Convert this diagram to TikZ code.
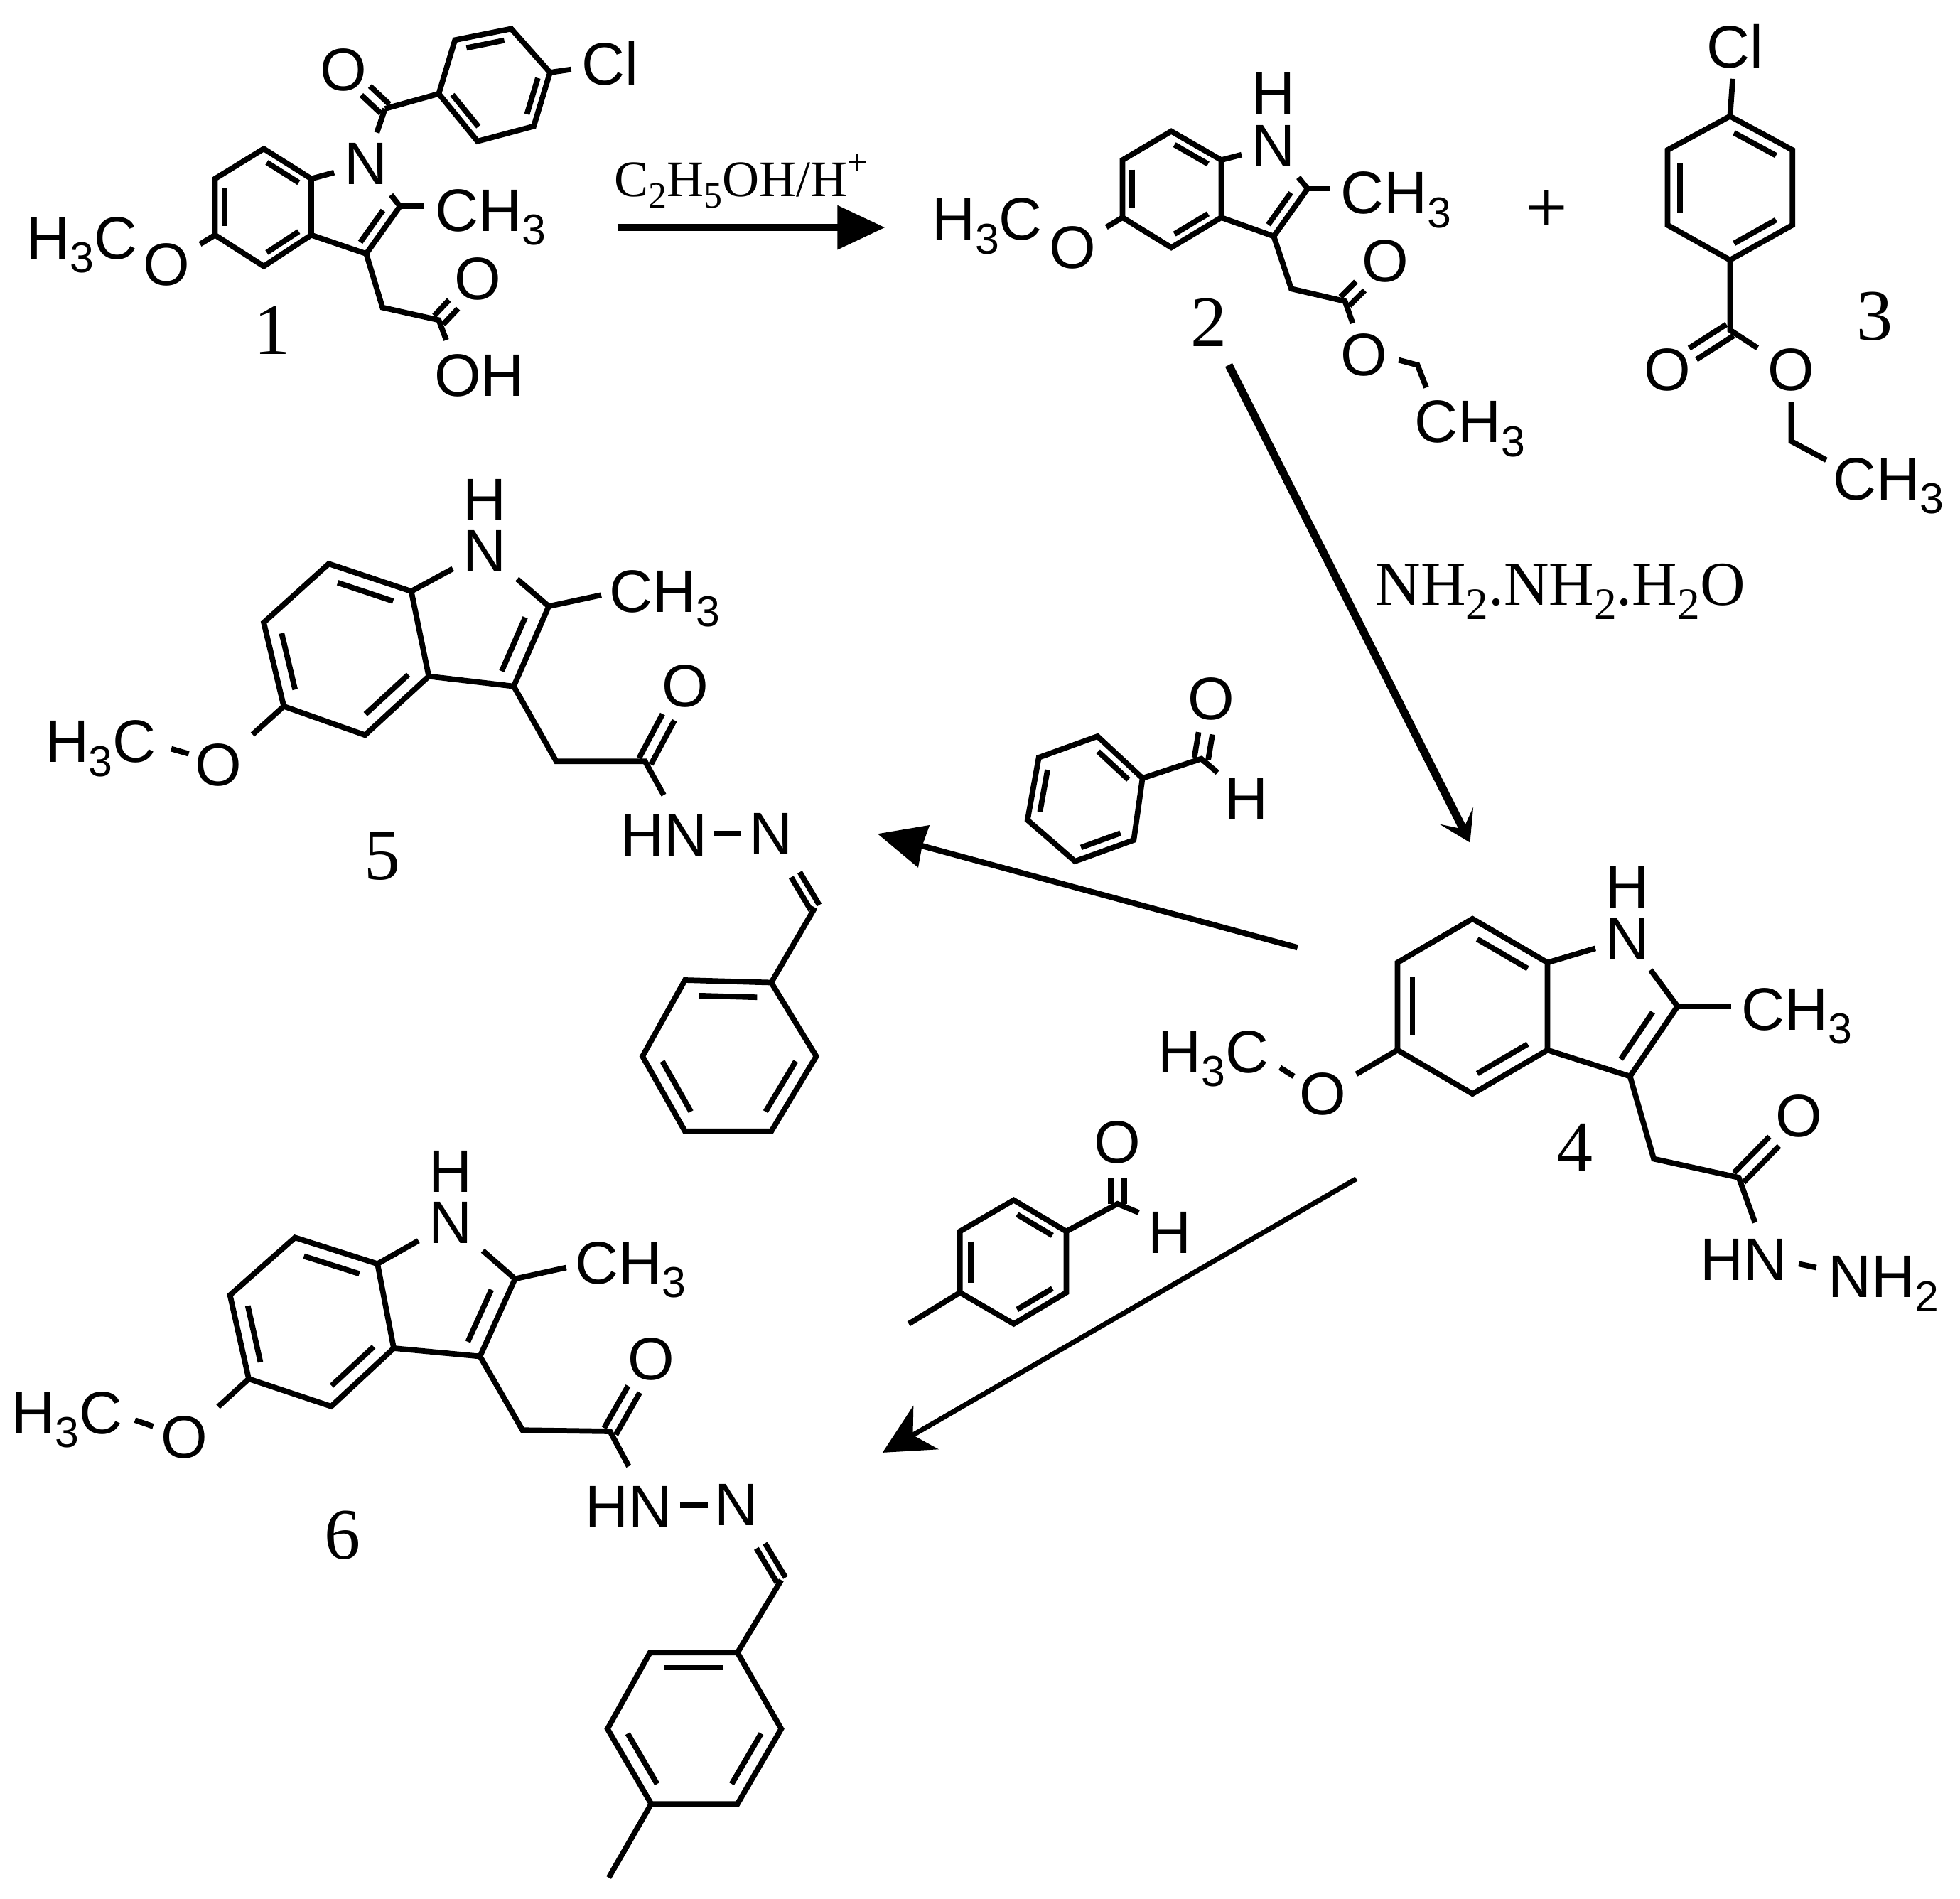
\documentclass[tikz,border=0pt]{standalone}
\usepackage{graphicx}
\usepackage{fontspec}
\setmainfont{Liberation Serif}
\newfontfamily\arialf{Liberation Sans}
\usetikzlibrary{calc,arrows.meta}
\newcommand{\sbs}[1]{\raisebox{-.23em}{\scalebox{.72}{#1}}}
\newcommand{\sps}[1]{\raisebox{.42em}{\scalebox{.7}{#1}}}
\newcommand{\vx}[2]{\coordinate (#1) at (#2);}
\newcommand{\hexring}[7]{%
  \coordinate (#1a) at (#2);\coordinate (#1b) at (#3);\coordinate (#1c) at (#4);%
  \coordinate (#1d) at (#5);\coordinate (#1e) at (#6);\coordinate (#1f) at (#7);%
  \coordinate (#1x) at ($(#1a)!.5!(#1d)$);%
  \draw[bond] (#1a)--(#1b)--(#1c)--(#1d)--(#1e)--(#1f)--cycle;}
\newcommand{\inb}[3]{\draw[bond] ($(#1#2)!.08!(#1#3)!.2!(#1x)$) -- ($(#1#3)!.08!(#1#2)!.2!(#1x)$);}
\newcommand{\inc}[3]{\draw[bond] ($(#1)!.1!(#2)!.16!(#3)$) -- ($(#2)!.1!(#1)!.16!(#3)$);}
% double bond from carbon #1 towards atom node #2, half separation #3, stopping #4 before #2
\newcommand{\dbl}[4]{%
  \draw[bond,shorten >=#4] ($(#1)!#3!90:(#2)$) -- ($(#2)!#3!-90:(#1)$);%
  \draw[bond,shorten >=#4] ($(#1)!#3!-90:(#2)$) -- ($(#2)!#3!90:(#1)$);}
\tikzset{
  bond/.style={line width=2.2pt,line cap=butt,line join=miter},
  atom/.style={font=\arialf\fontsize{24}{26}\selectfont,inner sep=4pt,text=black},
  grp/.style={font=\arialf\fontsize{24}{26}\selectfont,inner sep=0pt,anchor=base west,text=black},
  num/.style={font=\fontsize{29}{32}\selectfont,inner sep=0pt,text=black},
  reag/.style={font=\fontsize{25}{28}\selectfont,inner sep=0pt,anchor=base west,text=black},
  reag small/.style={font=\fontsize{20.5}{24}\selectfont,inner sep=0pt,anchor=base west,text=black},
}
\begin{document}
\begin{tikzpicture}[x=0.5pt,y=-0.5pt]
\useasboundingbox (0,0) rectangle (1568,1519);
\fill[white] (0,0) rectangle (1568,1519);

% ---------- compound 1
\hexring{ia}{211,119}{172,143}{172,188}{211,213}{249,188}{249,143}
\inb{ia}{a}{f}\inb{ia}{b}{c}\inb{ia}{d}{e}
\node[atom] (an) at (293,131) {N};
\vx{ac2}{320,165}\vx{ac3}{293,203}\vx{acm}{339,165}\vx{ach}{306,246}\vx{aco}{351,256}\vx{aoh}{357,272}\vx{acb}{308,87}
\node[grp] (ame) at (348,185) {CH\sbs{3}};
\node[grp] (aom) at (21,207) {H\sbs{3}C};
\node[atom] (ao) at (133,212) {O};
\node[atom] (ao2) at (382,223) {O};
\node[grp] (aoh2) at (347,317) {OH};
\node[atom] (ao3) at (275,56) {O};
\node[atom] (acl) at (488,51) {Cl};
\node[num] (l1) at (218,264) {1};
\draw[bond] (iaf) -- (an);
\draw[bond] (an) -- (ac2) -- (ac3) -- (iae);
\draw[bond] (ac2) -- (acm);
\inc{ac2}{ac3}{$(iae)!.5!(iaf)$}
\draw[bond] (iac) -- (ao);
\draw[bond] (ac3) -- (ach) -- (aco) -- (aoh);
\dbl{aco}{ao2}{2.5pt}{14pt}
\draw[bond] (an) -- (acb);
\dbl{acb}{ao3}{2.5pt}{12pt}
\hexring{ab}{351,75}{364,32}{409,23}{440,58}{427,101}{382,113}
\inb{ab}{b}{c}\inb{ab}{d}{e}\inb{ab}{f}{a}
\draw[bond] (acb) -- (aba);
\draw[bond] (abd) -- (acl);

% ---------- reaction 1
\node[reag small] (r1) at (491,157) {C\sbs{2}H\sbs{5}OH/H\sps{+}};
\vx{p1s}{494,182}\vx{p1e}{708,182}
\draw[line width=2.8pt,-{Triangle[length=19pt,width=17pt]}] (p1s) -- (p1e);

% ---------- compound 2
\hexring{ib}{937,105}{898,128}{898,174}{937,198}{977,174}{977,128}
\inb{ib}{a}{f}\inb{ib}{b}{c}\inb{ib}{d}{e}
\node[atom] (bn) at (1019,117) {N};
\node[atom] (bh) at (1019,75) {H};
\vx{bc2}{1046,151}\vx{bc3}{1019,189}\vx{bcm}{1064,151}\vx{bch}{1033,231}\vx{bco}{1076,241}\vx{bcq}{1134,292}\vx{bqa}{1119,288}\vx{bqb}{1141,310}
\node[grp] (bme) at (1072,171) {CH\sbs{3}};
\node[grp] (bom) at (745,192) {H\sbs{3}C};
\node[atom] (bo) at (858,198) {O};
\node[atom] (bo2) at (1108,209) {O};
\node[atom] (bo3) at (1091,284) {O};
\node[grp] (bet) at (1131,354) {CH\sbs{3}};
\node[num] (l2) at (967,258) {2};
\draw[bond] (ibf) -- (bn);
\draw[bond] (bn) -- (bc2) -- (bc3) -- (ibe);
\draw[bond] (bc2) -- (bcm);
\inc{bc2}{bc3}{$(ibe)!.5!(ibf)$}
\draw[bond] (ibc) -- (bo);
\draw[bond] (bc3) -- (bch) -- (bco) -- (bo3);
\dbl{bco}{bo2}{2.5pt}{14pt}
\draw[bond] (bqa) -- (bcq) -- (bqb);

\node[font=\fontsize{30}{32}\selectfont,inner sep=0pt] (plus) at (1237,169) {+};

% ---------- compound 3
\hexring{ic}{1384,93}{1434,120}{1434,180}{1384,208}{1334,180}{1334,120}
\inb{ic}{a}{b}\inb{ic}{c}{d}\inb{ic}{e}{f}
\node[atom] (ccl) at (1388,37) {Cl};
\node[atom] (co) at (1334,296) {O};
\node[atom] (co2) at (1433,296) {O};
\vx{ccb}{1384,264}\vx{ccq}{1433,353}\vx{cqb}{1461,368}
\node[grp] (cet) at (1466,400) {CH\sbs{3}};
\node[num] (l3) at (1500,253) {3};
\draw[bond] (ica) -- (ccl);
\draw[bond] (icd) -- (ccb) -- (co2);
\dbl{ccb}{co}{2.7pt}{12pt}
\draw[bond] (co2) -- (ccq) -- (cqb);

% ---------- reaction 2
\node[reag] (r2) at (1100,484) {NH\sbs{2}.NH\sbs{2}.H\sbs{2}O};
\vx{p2s}{983,292}\vx{p2e}{1176,674}
\draw[line width=3.2pt,-{Stealth[length=12pt,width=15pt,inset=6pt]}] (p2s) -- (p2e);

% ---------- compound 4
\hexring{id}{1178,735}{1118,770}{1118,840}{1178,875}{1238,840}{1238,770}
\inb{id}{a}{f}\inb{id}{b}{c}\inb{id}{d}{e}
\node[atom] (dn) at (1302,751) {N};
\node[atom] (dh) at (1302,710) {H};
\vx{dc2}{1342,805}\vx{dc3}{1304,861}\vx{dcm}{1385,805}\vx{dch}{1323,927}\vx{dco}{1391,942}\vx{dnb}{1404,978}\vx{dma}{1024,854}\vx{dmb}{1035,861}\vx{dna}{1439,1011}\vx{dnc}{1453,1014}
\node[grp] (dme) at (1393,824) {CH\sbs{3}};
\node[grp] (dom) at (926,858) {H\sbs{3}C};
\node[atom] (do) at (1058,875) {O};
\node[atom] (do2) at (1439,893) {O};
\node[grp] (dhn) at (1360,1024) {HN};
\node[grp] (dnh) at (1462,1038) {NH\sbs{2}};
\node[num] (l4) at (1260,918) {4};
\draw[bond] (idf) -- (dn);
\draw[bond] (dn) -- (dc2) -- (dc3) -- (ide);
\draw[bond] (dc2) -- (dcm);
\inc{dc2}{dc3}{$(ide)!.5!(idf)$}
\draw[bond] (idc) -- (do);
\draw[bond] (dma) -- (dmb);
\draw[bond] (dc3) -- (dch) -- (dco) -- (dnb);
\dbl{dco}{do2}{2.7pt}{14pt}
\draw[bond] (dna) -- (dnc);

% ---------- compound 5
\hexring{ie}{263,451}{211,498}{227,565}{292,588}{343,541}{329,473}
\inb{ie}{a}{f}\inb{ie}{b}{c}\inb{ie}{d}{e}
\node[atom] (en) at (388,441) {N};
\node[atom] (eh) at (388,400) {H};
\vx{ec2}{439,485}\vx{ec3}{411,549}\vx{ecm}{481,476}\vx{ech}{445,609}\vx{eco}{516,609}\vx{enb}{531,636}\vx{ema}{137,599}\vx{emb}{151,603}\vx{ena}{571,667}\vx{enc}{593,667}\vx{ecn}{652,726}
\node[grp] (eme) at (487,490) {CH\sbs{3}};
\node[grp] (eom) at (36,610) {H\sbs{3}C};
\node[atom] (eo) at (175,612) {O};
\node[atom] (eo2) at (548,549) {O};
\node[grp] (ehn) at (496,685) {HN};
\node[atom] (en2) at (617,667) {N};
\node[num] (l5) at (306,685) {5};
\draw[bond] (ief) -- (en);
\draw[bond] (en) -- (ec2) -- (ec3) -- (iee);
\draw[bond] (ec2) -- (ecm);
\inc{ec2}{ec3}{$(iee)!.5!(ief)$}
\draw[bond] (iec) -- (eo);
\draw[bond] (ema) -- (emb);
\draw[bond] (ec3) -- (ech) -- (eco) -- (enb);
\dbl{eco}{eo2}{2.7pt}{14pt}
\draw[bond] (ena) -- (enc);
\dbl{ecn}{en2}{2pt}{19pt}
\hexring{ef}{617,786}{548,784}{514,845}{548,905}{617,905}{653,845}
\inb{ef}{a}{b}\inb{ef}{c}{d}\inb{ef}{e}{f}
\draw[bond] (ecn) -- (efa);

% ---------- benzaldehyde
\hexring{ig}{878,589}{831,606}{822,656}{860,689}{907,672}{914,622.5}
\inb{ig}{a}{f}\inb{ig}{b}{c}\inb{ig}{d}{e}
\vx{gco}{961,607}\vx{ghb}{974,618}
\node[atom] (go) at (969,559) {O};
\node[atom] (gh) at (997,639) {H};
\draw[bond] (igf) -- (gco) -- (ghb);
\dbl{gco}{go}{2.8pt}{14pt}

% ---------- reaction 3
\vx{p3s}{1038,758}\vx{p3e}{702,667}
\draw[line width=2.3pt,-{Stealth[length=19pt,width=17pt,inset=0.5pt]}] (p3s) -- (p3e);

% ---------- p-tolualdehyde
\hexring{ih}{811,960}{768,985}{768,1034}{811,1059}{853,1034}{853,985}
\inb{ih}{a}{f}\inb{ih}{b}{c}\inb{ih}{d}{e}
\vx{hco}{894,963}\vx{hhb}{911,970}\vx{hme}{727,1059}
\node[atom] (ho) at (894,914) {O};
\node[atom] (hh) at (936,986) {H};
\draw[bond] (ihf) -- (hco) -- (hhb);
\dbl{hco}{ho}{2.8pt}{14pt}
\draw[bond] (ihc) -- (hme);

% ---------- reaction 4
\vx{p4s}{1085,943}\vx{p4e}{706,1162}
\draw[line width=2pt,-{Stealth[length=20pt,width=20pt,inset=6pt]}] (p4s) -- (p4e);

% ---------- compound 6
\hexring{ii}{236,990}{184,1036}{199,1103}{265,1125}{315,1078.5}{302,1011}
\inb{ii}{a}{f}\inb{ii}{b}{c}\inb{ii}{d}{e}
\node[atom] (fn) at (360.5,978) {N};
\node[atom] (fh) at (360.5,937) {H};
\vx{fc2}{412,1023}\vx{fc3}{384,1085}\vx{fcm}{453,1014}\vx{fch}{418,1144}\vx{fco}{488,1145}\vx{fnb}{503,1173}\vx{fma}{108,1136}\vx{fmb}{122.5,1141}\vx{fna}{544,1204}\vx{fnc}{566,1204}\vx{fcn}{625,1264}\vx{fpm}{487,1502}
\node[grp] (fme) at (460,1027) {CH\sbs{3}};
\node[grp] (fom) at (9,1147) {H\sbs{3}C};
\node[atom] (fo) at (147.5,1150) {O};
\node[atom] (fo2) at (521,1087) {O};
\node[grp] (fhn) at (468,1222) {HN};
\node[atom] (fn2) at (589,1204) {N};
\node[num] (l6) at (274,1228) {6};
\draw[bond] (iif) -- (fn);
\draw[bond] (fn) -- (fc2) -- (fc3) -- (iie);
\draw[bond] (fc2) -- (fcm);
\inc{fc2}{fc3}{$(iie)!.5!(iif)$}
\draw[bond] (iic) -- (fo);
\draw[bond] (fma) -- (fmb);
\draw[bond] (fc3) -- (fch) -- (fco) -- (fnb);
\dbl{fco}{fo2}{2.7pt}{14pt}
\draw[bond] (fna) -- (fnc);
\dbl{fcn}{fn2}{2pt}{19pt}
\hexring{ij}{590,1322}{520,1322}{486,1383}{521,1443}{590,1443}{625,1383}
\inb{ij}{a}{b}\inb{ij}{c}{d}\inb{ij}{e}{f}
\draw[bond] (fcn) -- (ija);
\draw[bond] (ijd) -- (fpm);
\end{tikzpicture}
\end{document}
